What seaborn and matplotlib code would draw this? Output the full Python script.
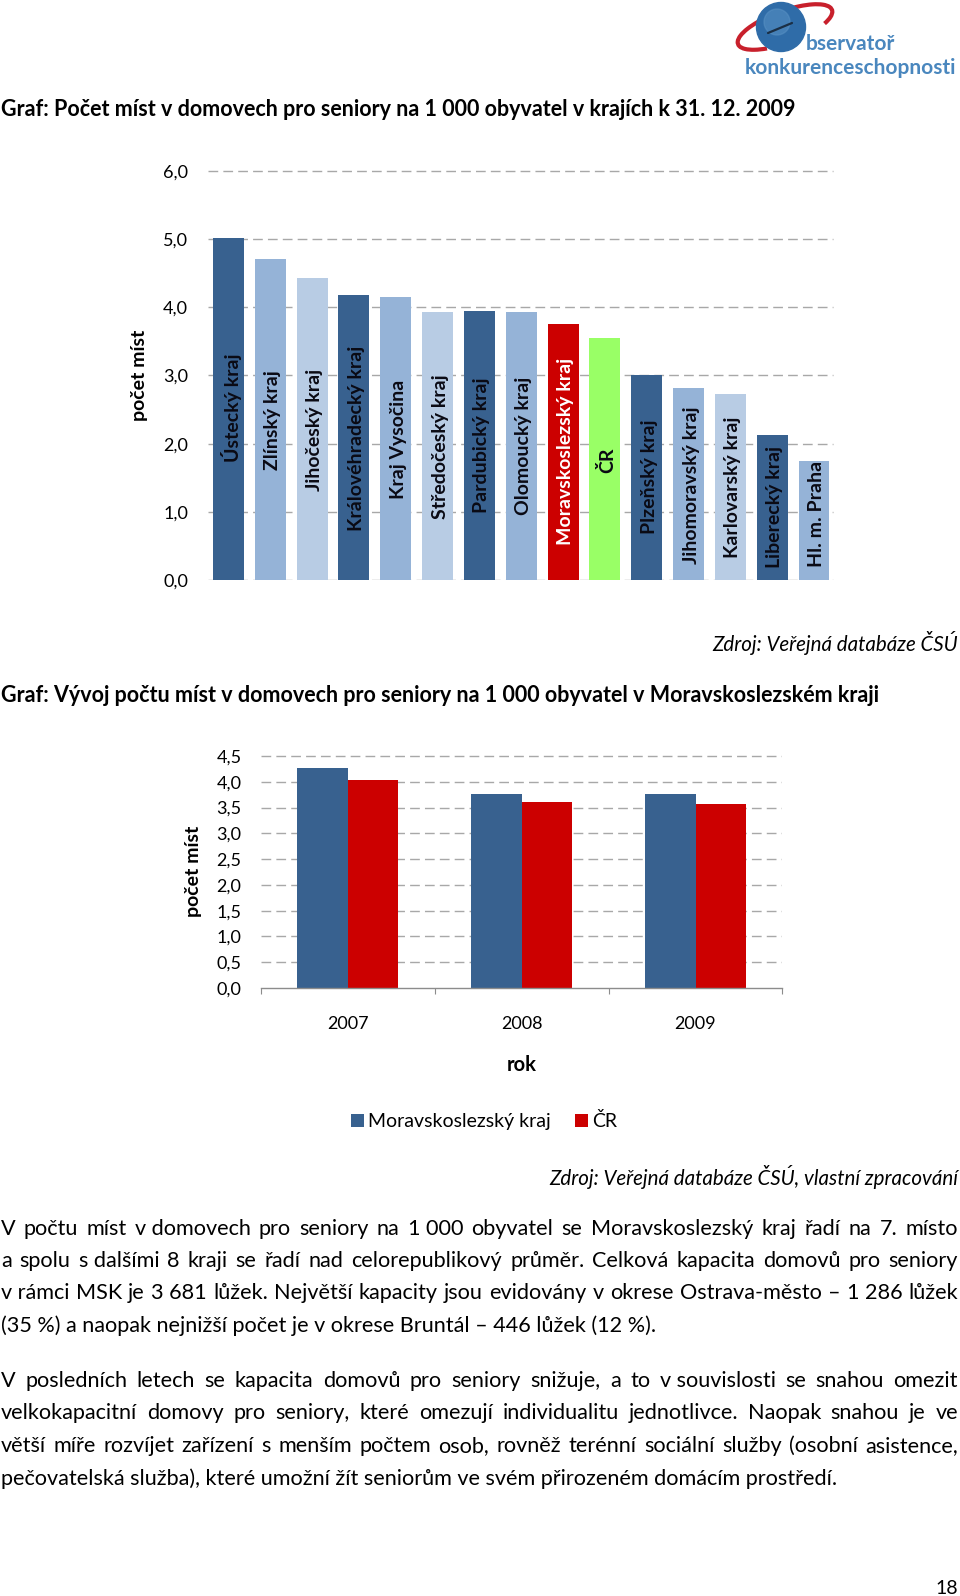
import pandas as pd
import matplotlib
matplotlib.use("Agg")
import matplotlib.pyplot as plt
from matplotlib.patches import Circle, Arc
import seaborn as sns

# values
regions = ["Ústecký kraj", "Zlínský kraj", "Jihočeský kraj", "Královéhradecký kraj",
           "Kraj Vysočina", "Středočeský kraj", "Pardubický kraj", "Olomoucký kraj",
           "Moravskoslezský kraj", "ČR", "Plzeňský kraj", "Jihomoravský kraj",
           "Karlovarský kraj", "Liberecký kraj", "Hl. m. Praha"]
region_values = [5.01, 4.71, 4.43, 4.18, 4.15, 3.93, 3.95, 3.93,
                 3.76, 3.55, 3.00, 2.81, 2.73, 2.13, 1.74]
years = ["2007", "2008", "2009"]
msk_values = [4.27, 3.76, 3.76]
cr_values = [4.03, 3.61, 3.56]

# where the labels sit inside the bars, in axis units
label_mid = [2.52, 2.35, 2.20, 2.08, 2.07, 1.95, 1.97, 1.97,
             1.88, 1.76, 1.51, 1.39, 1.36, 1.07, 0.97]

DARK = "#38618F"
MID = "#95B3D7"
LIGHT = "#B8CCE4"
RED = "#CC0000"
GREEN = "#99FF66"
GRID = "#A8A8A8"
INK = "#000000"
bar_colors = [DARK, MID, LIGHT, DARK, MID, LIGHT, DARK, MID, RED, GREEN,
              DARK, MID, LIGHT, DARK, MID]

paragraph_1 = [
    "V počtu míst v\u00a0domovech pro seniory na 1\u00a0000 obyvatel se Moravskoslezský kraj řadí na 7. místo",
    "a spolu s\u00a0dalšími 8 kraji se řadí nad celorepublikový průměr. Celková kapacita domovů pro seniory",
    "v\u00a0rámci MSK je 3\u00a0681 lůžek. Největší kapacity jsou evidovány v okrese Ostrava-město – 1\u00a0286 lůžek",
]
paragraph_1_end = "(35\u00a0%) a naopak nejnižší počet je v okrese Bruntál – 446 lůžek (12 %)."
paragraph_2 = [
    "V posledních letech se kapacita domovů pro seniory snižuje, a to v\u00a0souvislosti se snahou omezit",
    "velkokapacitní domovy pro seniory, které omezují individualitu jednotlivce. Naopak snahou je ve",
    "větší míře rozvíjet zařízení s menším počtem osob, rovněž terénní sociální služby (osobní asistence,",
]
paragraph_2_end = "pečovatelská služba), které umožní žít seniorům ve svém přirozeném domácím prostředí."

W, H = 960, 1596
FS_BODY = 15.6
FS_TITLE = 15.5
FS_TICK = 13.0
FS_LABEL = 14.0
FS_SOURCE = 14.8


def px_axes(fig, left, right, top, bottom):
    return fig.add_axes([left / W, 1 - bottom / H, (right - left) / W, (bottom - top) / H])


def justified(ov, line, y):
    words = [ov.text(0, y, w, fontsize=FS_BODY, va="center", color=INK) for w in line.split(" ")]
    rend = ov.figure.canvas.get_renderer()
    widths = [t.get_window_extent(rend).width for t in words]
    gap = (957 - sum(widths)) / (len(words) - 1)
    x = 1
    for t, w in zip(words, widths):
        t.set_x(x)
        x += w + gap


def dashed_grid(ax, ticks, x0, x1):
    ax.hlines(ticks, x0, x1, color=GRID, lw=1, linestyle=(0, (7, 3.7)), zorder=0)


sns.set_theme(style="white")
plt.rcParams["font.family"] = ["Lato", "DejaVu Sans"]

fig = plt.figure(figsize=(9.6, 15.96), dpi=100)

# top chart
ax1 = px_axes(fig, 207.6, 834.9, 159, 580)
sns.barplot(x=regions, y=region_values, hue=regions, palette=bar_colors, width=0.74,
            legend=False, saturation=1, linewidth=0, ax=ax1, zorder=2)
ax1.set_xlim(-0.5, 14.5)
ax1.set_ylim(0, 421 / 68.17)
ticks1 = [0, 1, 2, 3, 4, 5, 6]
dashed_grid(ax1, ticks1, -0.5, 14.46)
ax1.set_yticks(ticks1, [f"{t},0" for t in ticks1])
ax1.set_xticks([])
ax1.set_xlabel("")
ax1.tick_params(axis="y", length=0, pad=14, labelsize=FS_TICK, labelcolor=INK)
sns.despine(ax=ax1, left=True, bottom=True)
for i, name in enumerate(regions):
    ax1.text(i + 0.06, label_mid[i], name, rotation=90, ha="center", va="center", fontsize=FS_LABEL,
             fontweight="bold", color="white" if name == "Moravskoslezský kraj" else "#0A0A14",
             zorder=3)

# bottom chart
df = pd.DataFrame({
    "rok": years * 2,
    "hodnota": msk_values + cr_values,
    "oblast": ["Moravskoslezský kraj"] * 3 + ["ČR"] * 3,
})
ax2 = px_axes(fig, 261, 782.4, 745, 988)
sns.barplot(data=df, x="rok", y="hodnota", hue="oblast", palette=[DARK, RED], width=0.58,
            gap=0, saturation=1, linewidth=0, ax=ax2, zorder=2)
ax2.set_xlim(-0.5, 2.5)
ax2.set_ylim(0, 243 / 51.55)
ticks2 = [0.5 * i for i in range(1, 10)]
dashed_grid(ax2, ticks2, -0.5, 2.5)
ax2.set_yticks([0] + ticks2, [f"{t:.1f}".replace(".", ",") for t in [0] + ticks2])
ax2.set_xticks([-0.5, 0.5, 1.5, 2.5], ["", "", "", ""])
ax2.set_xticks([0, 1, 2], years, minor=True)
ax2.set_xlabel("")
ax2.set_ylabel("")
ax2.tick_params(axis="y", length=0, pad=14, labelsize=FS_TICK, labelcolor=INK)
ax2.tick_params(axis="x", which="major", length=4, width=0.8, color="#8C8C8C", bottom=True)
ax2.tick_params(axis="x", which="minor", length=0, pad=20, labelsize=FS_TICK, labelcolor=INK)
sns.despine(ax=ax2, left=True)
ax2.spines["bottom"].set_color("#8C8C8C")
ax2.spines["bottom"].set_linewidth(1)
sns.move_legend(ax2, "center", bbox_to_anchor=(484 / W, 1 - 1121 / H),
                bbox_transform=fig.transFigure, ncol=2, frameon=False, title=None,
                fontsize=FS_LABEL, handlelength=0.67, handleheight=0.67, handletextpad=0.25,
                columnspacing=1.2, labelcolor=INK)

# texts and logo in pixel coordinates
ov = fig.add_axes([0, 0, 1, 1], zorder=-1)
ov.set_xlim(0, W)
ov.set_ylim(H, 0)
ov.axis("off")
fig.canvas.draw()

ov.text(1, 110, "Graf: Počet míst v domovech pro seniory na 1 000 obyvatel v krajích k 31. 12. 2009",
        fontsize=FS_TITLE, fontweight="bold", va="center", color=INK)
ov.text(1, 696, "Graf: Vývoj počtu míst v domovech pro seniory na 1 000 obyvatel v Moravskoslezském kraji",
        fontsize=FS_TITLE, fontweight="bold", va="center", color=INK)
ov.text(139, 375, "počet míst", rotation=90, fontsize=FS_LABEL, fontweight="bold",
        ha="center", va="center", color=INK)
ov.text(194, 871, "počet míst", rotation=90, fontsize=FS_LABEL, fontweight="bold",
        ha="center", va="center", color=INK)
ov.text(522, 1065, "rok", fontsize=14.5, fontweight="bold", ha="center", va="center", color=INK)
ov.text(958, 643, "Zdroj: Veřejná databáze ČSÚ", fontsize=FS_SOURCE, fontstyle="italic",
        ha="right", va="center", color=INK)
ov.text(958, 1177, "Zdroj: Veřejná databáze ČSÚ, vlastní zpracování", fontsize=FS_SOURCE, fontstyle="italic",
        ha="right", va="center", color=INK)
ov.text(958, 1589, "18", fontsize=FS_LABEL, ha="right", va="center", color=INK)

for line, y in zip(paragraph_1, [1229, 1261, 1293]):
    justified(ov, line, y)
ov.text(1, 1326, paragraph_1_end, fontsize=FS_BODY, va="center", color=INK)
for line, y in zip(paragraph_2, [1381, 1413, 1446]):
    justified(ov, line, y)
ov.text(1, 1479, paragraph_2_end, fontsize=FS_BODY, va="center", color=INK)

# logo
ov.add_patch(Arc((785, 27), 100, 32, angle=-20, theta1=150, theta2=375, color="#C8202C", lw=3))
ov.add_patch(Circle((781, 27), 24.5, color="#2F6CA8", zorder=3))
ov.add_patch(Circle((777, 22), 13, color="#5B94C6", alpha=0.5, zorder=3))
ov.plot([768, 792], [33, 23], color="#1B2F45", lw=1.6, zorder=4)
ov.text(806, 44, "bservatoř", fontsize=15, fontweight="bold", color="#4A87BE", va="center")
ov.text(745, 68, "konkurenceschopnosti", fontsize=15, fontweight="bold", color="#4A87BE", va="center")

fig.savefig("out.png", dpi=100, facecolor="white")
